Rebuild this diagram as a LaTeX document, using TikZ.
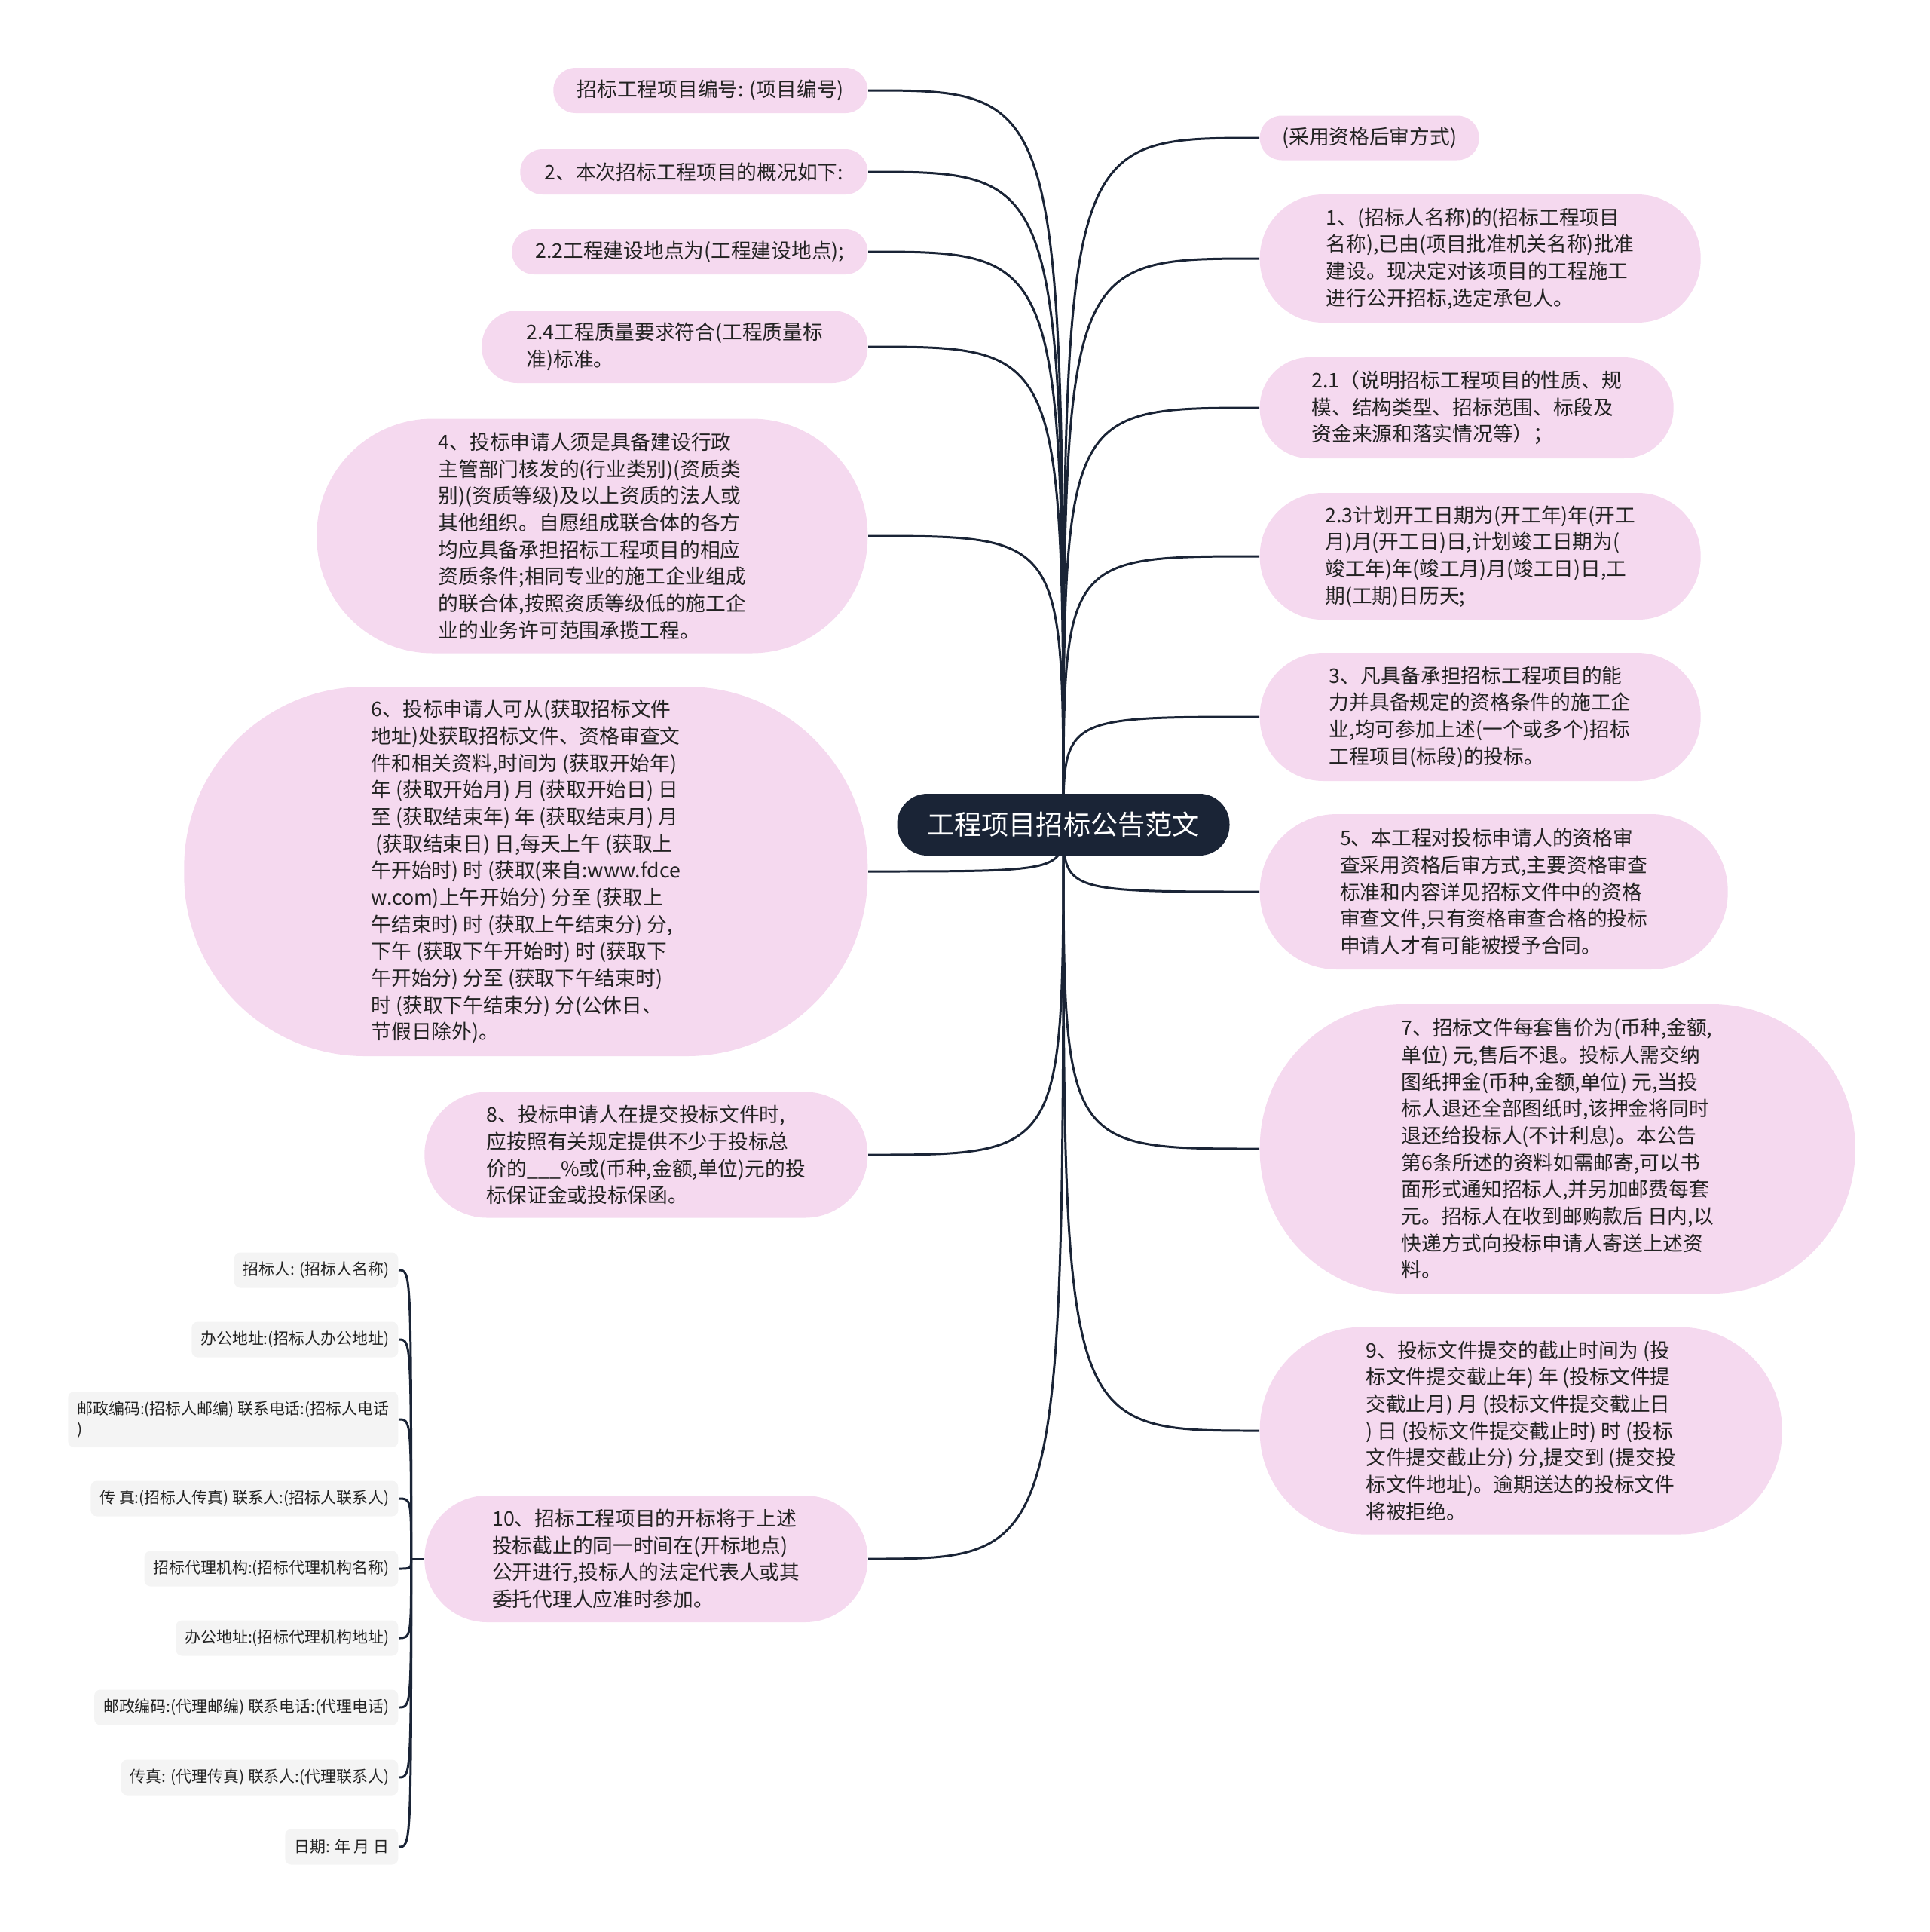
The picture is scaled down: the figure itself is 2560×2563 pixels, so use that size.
\documentclass[tikz,border=0pt]{standalone}
\usepackage{fontspec}
\setmainfont{Noto Sans CJK SC}
\usepackage{xcolor}
\usetikzlibrary{backgrounds}
\definecolor{rootblue}{HTML}{1A2436}
\definecolor{leafpink}{HTML}{F5D9EF}
\definecolor{leaftext}{HTML}{222222}
\definecolor{subgrey}{HTML}{F4F4F4}

\begin{document}
\begin{tikzpicture}[x=0.1mm, y=-0.1mm]
    \tikzstyle{topic} = [rectangle, fill=rootblue, text=white, rounded corners=4mm, minimum width=44.1mm, minimum height=8.2mm, font=\fontsize{10.3pt}{12pt}\selectfont]
    \tikzstyle{leaf} = [rectangle, fill=leafpink, text=leaftext, align=left, inner sep=0pt, font=\fontsize{7.6pt}{10.15pt}\selectfont]
    \tikzstyle{detail} = [rectangle, fill=subgrey, text=leaftext, rounded corners=0.8mm, anchor=east, align=left, inner xsep=1.2mm, inner ysep=0pt, minimum height=4.7mm, font=\fontsize{5.95pt}{7.7pt}\selectfont]
    \tikzstyle{link} = [draw=rootblue, line width=0.85pt]

    \useasboundingbox (0,0) rectangle (2560,2563);

    \node [topic] (root) at (1411,1094) {工程项目招标公告范文};

    \node [leaf, anchor=east, minimum width=41.7mm, minimum height=6mm, rounded corners=2.95mm] (l1) at (1152,120) {招标工程项目编号: (项目编号)};
    \node [leaf, anchor=east, minimum width=46.1mm, minimum height=6mm, rounded corners=2.95mm] (l2) at (1152,228) {2、本次招标工程项目的概况如下:};
    \node [leaf, anchor=east, minimum width=47.2mm, minimum height=6mm, rounded corners=2.95mm] (l3) at (1152,334) {2.2工程建设地点为(工程建设地点);};
    \node [leaf, anchor=east, minimum width=51.2mm, minimum height=9.6mm, rounded corners=4.7mm] (l4) at (1152,460) {2.4工程质量要求符合(工程质量标\\准)标准。};
    \node [leaf, anchor=east, minimum width=73.1mm, minimum height=31.1mm, rounded corners=15.4mm] (l5) at (1152,711) {4、投标申请人须是具备建设行政\\主管部门核发的(行业类别)(资质类\\别)(资质等级)及以上资质的法人或\\其他组织。自愿组成联合体的各方\\均应具备承担招标工程项目的相应\\资质条件;相同专业的施工企业组成\\的联合体,按照资质等级低的施工企\\业的业务许可范围承揽工程。};
    \node [leaf, anchor=east, minimum width=90.7mm, minimum height=49mm, rounded corners=24mm] (l6) at (1152,1156) {6、投标申请人可从(获取招标文件\\地址)处获取招标文件、资格审查文\\件和相关资料,时间为 (获取开始年)\\年 (获取开始月) 月 (获取开始日) 日\\至 (获取结束年) 年 (获取结束月) 月\\~(获取结束日) 日,每天上午 (获取上\\午开始时) 时 (获取(来自:www.fdce\\w.com)上午开始分) 分至 (获取上\\午结束时) 时 (获取上午结束分) 分,\\下午 (获取下午开始时) 时 (获取下\\午开始分) 分至 (获取下午结束时)\\时 (获取下午结束分) 分(公休日、\\节假日除外)。};
    \node [leaf, anchor=east, minimum width=58.8mm, minimum height=16.7mm, rounded corners=8.3mm] (l7) at (1152,1532) {8、投标申请人在提交投标文件时,\\应按照有关规定提供不少于投标总\\价的\_\_\_\%或(币种,金额,单位)元的投\\标保证金或投标保函。};
    \node [leaf, anchor=east, minimum width=58.8mm, minimum height=16.8mm, rounded corners=8.3mm] (l8) at (1152,2068) {10、招标工程项目的开标将于上述\\投标截止的同一时间在(开标地点)\\公开进行,投标人的法定代表人或其\\委托代理人应准时参加。};

    \node [leaf, anchor=west, minimum width=29.1mm, minimum height=5.9mm, rounded corners=2.9mm] (r1) at (1671,183) {(采用资格后审方式)};
    \node [leaf, anchor=west, minimum width=58.5mm, minimum height=17mm, rounded corners=8.4mm] (r2) at (1671,343) {1、(招标人名称)的(招标工程项目\\名称),已由(项目批准机关名称)批准\\建设。现决定对该项目的工程施工\\进行公开招标,选定承包人。};
    \node [leaf, anchor=west, minimum width=54.9mm, minimum height=13.4mm, rounded corners=6.6mm] (r3) at (1671,541) {2.1（说明招标工程项目的性质、规\\模、结构类型、招标范围、标段及\\资金来源和落实情况等）；};
    \node [leaf, anchor=west, minimum width=58.5mm, minimum height=16.8mm, rounded corners=8.3mm] (r4) at (1671,738) {2.3计划开工日期为(开工年)年(开工\\月)月(开工日)日,计划竣工日期为(\\竣工年)年(竣工月)月(竣工日)日,工\\期(工期)日历天;};
    \node [leaf, anchor=west, minimum width=58.5mm, minimum height=17mm, rounded corners=8.4mm] (r5) at (1671,951) {3、凡具备承担招标工程项目的能\\力并具备规定的资格条件的施工企\\业,均可参加上述(一个或多个)招标\\工程项目(标段)的投标。};
    \node [leaf, anchor=west, minimum width=62.1mm, minimum height=20.6mm, rounded corners=10.2mm] (r6) at (1671,1183) {5、本工程对投标申请人的资格审\\查采用资格后审方式,主要资格审查\\标准和内容详见招标文件中的资格\\审查文件,只有资格审查合格的投标\\申请人才有可能被授予合同。};
    \node [leaf, anchor=west, minimum width=79mm, minimum height=38.4mm, rounded corners=19mm] (r7) at (1671,1524) {7、招标文件每套售价为(币种,金额,\\单位) 元,售后不退。投标人需交纳\\图纸押金(币种,金额,单位) 元,当投\\标人退还全部图纸时,该押金将同时\\退还给投标人(不计利息)。本公告\\第6条所述的资料如需邮寄,可以书\\面形式通知招标人,并另加邮费每套\\元。招标人在收到邮购款后 日内,以\\快递方式向投标申请人寄送上述资\\料。};
    \node [leaf, anchor=west, minimum width=69.3mm, minimum height=27.5mm, rounded corners=13.6mm] (r8) at (1671,1898) {9、投标文件提交的截止时间为 (投\\标文件提交截止年) 年 (投标文件提\\交截止月) 月 (投标文件提交截止日\\) 日 (投标文件提交截止时) 时 (投标\\文件提交截止分) 分,提交到 (提交投\\标文件地址)。逾期送达的投标文件\\将被拒绝。};

    \node [detail] (c1) at (529,1685) {招标人: (招标人名称)};
    \node [detail] (c2) at (529,1777) {办公地址:(招标人办公地址)};
    \node [detail, minimum height=7.4mm] (c3) at (529,1883) {邮政编码:(招标人邮编) 联系电话:(招标人电话\\)};
    \node [detail] (c4) at (529,1988) {传\ 真:(招标人传真) 联系人:(招标人联系人)};
    \node [detail] (c5) at (529,2081) {招标代理机构:(招标代理机构名称)};
    \node [detail] (c6) at (529,2173) {办公地址:(招标代理机构地址)};
    \node [detail] (c7) at (529,2265) {邮政编码:(代理邮编) 联系电话:(代理电话)};
    \node [detail] (c8) at (529,2358) {传真: (代理传真) 联系人:(代理联系人)};
    \node [detail] (c9) at (529,2450) {日期: 年 月 日};
    \coordinate (hub) at ([xshift=-1.7mm]l8.west);

    \begin{scope}[on background layer]
        \draw [link] (root.center) .. controls (root.center |- l1.east) .. (l1.east);
        \draw [link] (root.center) .. controls (root.center |- l2.east) .. (l2.east);
        \draw [link] (root.center) .. controls (root.center |- l3.east) .. (l3.east);
        \draw [link] (root.center) .. controls (root.center |- l4.east) .. (l4.east);
        \draw [link] (root.center) .. controls (root.center |- l5.east) .. (l5.east);
        \draw [link] (root.center) .. controls (root.center |- l6.east) .. (l6.east);
        \draw [link] (root.center) .. controls (root.center |- l7.east) .. (l7.east);
        \draw [link] (root.center) .. controls (root.center |- l8.east) .. (l8.east);
        \draw [link] (root.center) .. controls (root.center |- r1.west) .. (r1.west);
        \draw [link] (root.center) .. controls (root.center |- r2.west) .. (r2.west);
        \draw [link] (root.center) .. controls (root.center |- r3.west) .. (r3.west);
        \draw [link] (root.center) .. controls (root.center |- r4.west) .. (r4.west);
        \draw [link] (root.center) .. controls (root.center |- r5.west) .. (r5.west);
        \draw [link] (root.center) .. controls (root.center |- r6.west) .. (r6.west);
        \draw [link] (root.center) .. controls (root.center |- r7.west) .. (r7.west);
        \draw [link] (root.center) .. controls (root.center |- r8.west) .. (r8.west);

        \draw [link] (l8.west) -- (hub);
        \draw [link] (hub) .. controls (hub |- c1.east) .. (c1.east);
        \draw [link] (hub) .. controls (hub |- c2.east) .. (c2.east);
        \draw [link] (hub) .. controls (hub |- c3.east) .. (c3.east);
        \draw [link] (hub) .. controls (hub |- c4.east) .. (c4.east);
        \draw [link] (hub) .. controls (hub |- c5.east) .. (c5.east);
        \draw [link] (hub) .. controls (hub |- c6.east) .. (c6.east);
        \draw [link] (hub) .. controls (hub |- c7.east) .. (c7.east);
        \draw [link] (hub) .. controls (hub |- c8.east) .. (c8.east);
        \draw [link] (hub) .. controls (hub |- c9.east) .. (c9.east);
    \end{scope}
\end{tikzpicture}
\end{document}
